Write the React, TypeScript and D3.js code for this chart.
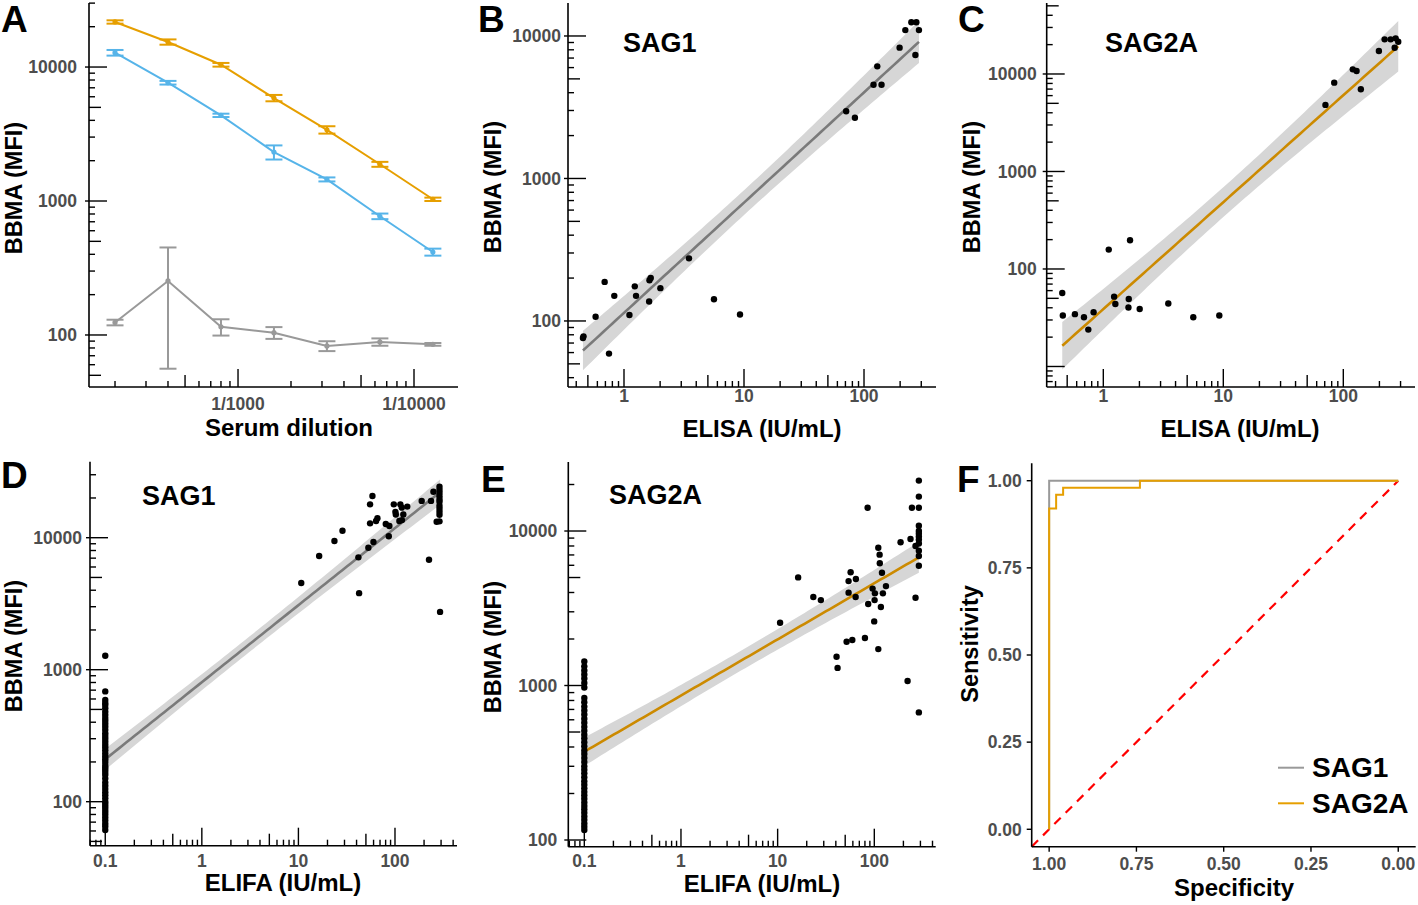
import React from 'react';
import * as d3 from 'd3';

// ---------------- DATA ----------------
// Panel A: serial dilutions (reciprocal) and BBMA MFI (mean ± SE)
const dilutions = [200, 400, 800, 1600, 3200, 6400, 12800];
const orangeMean = [21700, 15380, 10400, 5870, 3400, 1880, 1030];
const orangeSE = [620, 700, 330, 320, 215, 80, 30];
const blueMean = [12790, 7640, 4360, 2320, 1450, 769, 416];
const blueSE = [620, 240, 125, 280, 50, 37, 25];
const greyMean = [124, 253, 115, 104, 82.8, 88.7, 85.1];
const greySE = [6, 197, 16, 10.5, 7, 5.6, 2];
const dilutionTickValues = [1000, 10000];
const dilutionTickLabels = ['1/1000', '1/10000'];

// Panels B / C: ELISA (IU/mL) vs BBMA (MFI)
const elisaIU = [0.455, 0.46, 0.58, 0.69, 0.75, 0.83, 1.11, 1.23, 1.26, 1.62, 1.63, 1.67, 2.01, 3.48, 5.62, 9.26, 71, 84, 120, 129, 140, 198, 221, 248, 273, 268, 287];
const bbmaSAG1 = [76, 78, 107, 188, 59, 150, 110, 175, 150, 137, 193, 200, 170, 275, 142, 111, 2960, 2670, 4550, 6120, 4550, 8280, 11000, 12480, 12480, 7360, 11000];
const bbmaSAG2A = [56.8, 33.3, 34.4, 32, 23.9, 36, 158, 52, 43.8, 40.2, 49.3, 197, 38.9, 44.2, 32, 33.3, 4820, 8150, 11160, 10730, 6970, 17200, 22650, 22650, 23200, 18600, 21400];

// Panel D: ELIFA vs BBMA SAG1
const elifaNegValue = 0.1;
const sag1NegBBMA = [1276, 685, 590, 560, 540, 510, 480, 455, 430, 410, 390, 370, 350, 330, 315, 300, 285, 270, 258, 245, 232, 220, 210, 200, 190, 182, 175, 168, 160, 150, 140, 132, 125, 118, 112, 106, 100, 96, 92, 88, 84, 80, 76, 72, 68, 65, 61];
const sag1PosElifa = [10.7, 16.4, 23.6, 28.6, 41.8, 42.5, 53, 59.8, 55.2, 63.7, 65.8, 55.2, 58.4, 80.3, 87.5, 86.3, 97.2, 101, 102, 113.7, 117.5, 122, 111, 118, 134, 189, 236, 250, 225, 293, 270, 289, 289, 289, 289, 289, 289, 289, 289, 289, 289, 289];
const sag1PosBBMA = [4540, 7260, 9440, 11300, 7100, 3800, 8400, 9270, 12850, 13400, 14030, 17900, 20700, 12700, 12270, 10250, 17900, 15700, 15000, 17900, 16900, 15000, 13400, 13600, 17200, 19000, 19000, 22300, 6810, 2740, 13200, 24300, 23000, 21800, 20600, 19500, 18700, 17500, 16600, 15700, 14900, 13300];

// Panel E: ELIFA vs BBMA SAG2A
const sag2aNegBBMA = [1430, 1330, 1250, 1180, 1110, 1040, 970, 830, 780, 730, 690, 650, 610, 575, 540, 510, 480, 455, 430, 405, 380, 360, 340, 320, 300, 285, 270, 255, 240, 228, 216, 205, 195, 185, 175, 166, 158, 150, 142, 135, 128, 122, 116];
const sag2aPosElifa = [16.3, 23.4, 28, 10.6, 40.7, 41.7, 51.7, 59.2, 54.2, 56.9, 54.2, 64.5, 64.1, 85.3, 80, 86.5, 96, 101.4, 100.7, 99.8, 110, 113.5, 114, 120, 117, 110, 122.7, 132, 187, 237, 221, 245, 267, 267, 289, 289, 289, 289, 289, 289, 289, 289, 289, 289, 289, 289, 289];
const sag2aPosBBMA = [5010, 3740, 3570, 2550, 1535, 1300, 1920, 1970, 3990, 5410, 4740, 4890, 3740, 14150, 2030, 3370, 4240, 3950, 3570, 2600, 7800, 7030, 6180, 5370, 3220, 1720, 3950, 4400, 8450, 8870, 1070, 14150, 3700, 8000, 21200, 16700, 14150, 10820, 10000, 9600, 9200, 8800, 8300, 7450, 6890, 5960, 670];

// Panel F: ROC curves
const rocSAG1Spec = [1, 1, 0];
const rocSAG1Sens = [0, 1, 1];
const rocSAG2ASpec = [1, 1, 0.98, 0.98, 0.96, 0.96, 0.74, 0.74, 0];
const rocSAG2ASens = [0, 0.92, 0.92, 0.96, 0.96, 0.98, 0.98, 1, 1];
const rocTicks = [0, 0.25, 0.5, 0.75, 1];
const legendLabels = ['SAG1', 'SAG2A'];

// ---------------- STYLE ----------------
const FONT = '"Liberation Sans", Arial, Helvetica, sans-serif';
const TICK_COL = '#4d4d4d';
const ORANGE = '#E69F00';
const BLUE = '#56B4E9';
const GREY = '#999999';
const FIT_GREY = '#7a7a7a';
const FIT_ORANGE = '#CC8A00';
const RIBBON = '#d6d6d6';
const TICK_FS = 17.5;

function logTicks(domain: number[]) {
  const a = Math.min(domain[0], domain[1]);
  const b = Math.max(domain[0], domain[1]);
  const out: { v: number; m: number }[] = [];
  for (let e = Math.floor(Math.log10(a)); e <= Math.ceil(Math.log10(b)); e++) {
    for (let m = 1; m <= 9; m++) {
      const v = m * Math.pow(10, e);
      if (v >= a * 0.999 && v <= b * 1.001) out.push({ v, m });
    }
  }
  return out;
}
const tickLen = (m: number) => (m === 1 ? 18 : m === 5 ? 12 : 6);

function fitLogLog(xs: number[], ys: number[]) {
  const lx = xs.map(Math.log10);
  const ly = ys.map(Math.log10);
  const n = lx.length;
  const mx = d3.mean(lx) as number;
  const my = d3.mean(ly) as number;
  let sxx = 0, sxy = 0;
  for (let i = 0; i < n; i++) {
    sxx += (lx[i] - mx) ** 2;
    sxy += (lx[i] - mx) * (ly[i] - my);
  }
  const b = sxy / sxx;
  const a = my - b * mx;
  let sse = 0;
  for (let i = 0; i < n; i++) sse += (ly[i] - (a + b * lx[i])) ** 2;
  const s = Math.sqrt(sse / (n - 2));
  const t = 1.96 + 2.4 / (n - 2);
  const x0 = d3.min(lx) as number;
  const x1 = d3.max(lx) as number;
  return d3.range(80).map((i) => {
    const x = x0 + ((x1 - x0) * i) / 79;
    const yh = a + b * x;
    const se = s * Math.sqrt(1 / n + (x - mx) ** 2 / sxx);
    return { x: 10 ** x, y: 10 ** yh, lo: 10 ** (yh - t * se), hi: 10 ** (yh + t * se) };
  });
}

// ---------- generic pieces ----------
function LogAxisY({ y, x0, labels, gap }: { y: d3.ScaleLogarithmic<number, number>; x0: number; labels: number[]; gap: number }) {
  const ticks = logTicks(y.domain());
  const r = y.range();
  return (
    <g>
      <line x1={x0} x2={x0} y1={r[0]} y2={r[1]} stroke="#000" strokeWidth={1.6} />
      {ticks.map((t, i) => (
        <line key={i} x1={x0} x2={x0 + tickLen(t.m)} y1={y(t.v)} y2={y(t.v)} stroke="#000" strokeWidth={1.4} />
      ))}
      {labels.map((v) => (
        <g key={v}>
          <line x1={x0 - 4} x2={x0} y1={y(v)} y2={y(v)} stroke="#000" strokeWidth={1.4} />
          <text x={x0 - gap} y={y(v)} dy="0.36em" textAnchor="end" fontFamily={FONT} fontWeight="bold" fontSize={TICK_FS} fill={TICK_COL}>
            {v}
          </text>
        </g>
      ))}
    </g>
  );
}

function LogAxisX({ x, y0, labels, labelText, baseline }: { x: d3.ScaleLogarithmic<number, number>; y0: number; labels: number[]; labelText: string[]; baseline: number }) {
  const ticks = logTicks(x.domain());
  const r = x.range();
  return (
    <g>
      <line x1={r[0]} x2={r[1]} y1={y0} y2={y0} stroke="#000" strokeWidth={1.6} />
      {ticks.map((t, i) => (
        <line key={i} x1={x(t.v)} x2={x(t.v)} y1={y0} y2={y0 - tickLen(t.m)} stroke="#000" strokeWidth={1.4} />
      ))}
      {labels.map((v, i) => (
        <text key={i} x={x(v)} y={baseline} textAnchor="middle" fontFamily={FONT} fontWeight="bold" fontSize={TICK_FS} fill={TICK_COL}>
          {labelText[i]}
        </text>
      ))}
    </g>
  );
}

function YTitle({ x, y, text }: { x: number; y: number; text: string }) {
  return (
    <text transform={`translate(${x},${y}) rotate(-90)`} textAnchor="middle" fontFamily={FONT} fontWeight="bold" fontSize={23.5} fill="#000">
      {text}
    </text>
  );
}
function XTitle({ x, y, text }: { x: number; y: number; text: string }) {
  return (
    <text x={x} y={y} textAnchor="middle" fontFamily={FONT} fontWeight="bold" fontSize={24} fill="#000">
      {text}
    </text>
  );
}
function Letter({ x, y, text }: { x: number; y: number; text: string }) {
  return (
    <text x={x} y={y} fontFamily={FONT} fontWeight="bold" fontSize={37} fill="#000">
      {text}
    </text>
  );
}
function Title({ x, y, text }: { x: number; y: number; text: string }) {
  return (
    <text x={x} y={y} fontFamily={FONT} fontWeight="bold" fontSize={27} fill="#000">
      {text}
    </text>
  );
}

function ScatterFit({ x, y, xs, ys, lineColor }: { x: d3.ScaleLogarithmic<number, number>; y: d3.ScaleLogarithmic<number, number>; xs: number[]; ys: number[]; lineColor: string }) {
  const fit = fitLogLog(xs, ys);
  const area = d3.area<any>().x((d) => x(d.x)).y0((d) => y(d.lo)).y1((d) => y(d.hi))(fit) as string;
  const line = d3.line<any>().x((d) => x(d.x)).y((d) => y(d.y))(fit) as string;
  return (
    <g>
      <path d={area} fill={RIBBON} stroke="none" />
      <path d={line} fill="none" stroke={lineColor} strokeWidth={2.6} />
      {xs.map((v, i) => (
        <circle key={i} cx={x(v)} cy={y(ys[i])} r={3.2} fill="#000" />
      ))}
    </g>
  );
}

// ---------- Panels ----------
function PanelA() {
  const x = d3.scaleLog().domain([142.3, 17783]).range([89, 458]);
  const y = d3.scaleLog().domain([40.9, 30060]).range([387, 3]);
  const series = [
    { mean: greyMean, se: greySE, color: GREY },
    { mean: blueMean, se: blueSE, color: BLUE },
    { mean: orangeMean, se: orangeSE, color: ORANGE },
  ];
  const line = d3.line<number>().x((_, i) => x(dilutions[i])).y((d) => y(d));
  return (
    <g>
      {series.map((s, k) => (
        <g key={k}>
          <path d={line(s.mean) as string} fill="none" stroke={s.color} strokeWidth={2} />
          {s.mean.map((m, i) => {
            const cx = x(dilutions[i]);
            const yt = y(m + s.se[i]);
            const yb = y(Math.max(m - s.se[i], 1));
            return (
              <g key={i}>
                <line x1={cx} x2={cx} y1={yt} y2={yb} stroke={s.color} strokeWidth={2} />
                <line x1={cx - 8.5} x2={cx + 8.5} y1={yt} y2={yt} stroke={s.color} strokeWidth={2} />
                <line x1={cx - 8.5} x2={cx + 8.5} y1={yb} y2={yb} stroke={s.color} strokeWidth={2} />
                <circle cx={cx} cy={y(m)} r={2.6} fill={s.color} />
              </g>
            );
          })}
        </g>
      ))}
      <LogAxisY y={y} x0={89} labels={[100, 1000, 10000]} gap={12} />
      <LogAxisX x={x} y0={387} labels={dilutionTickValues} labelText={dilutionTickLabels} baseline={410} />
      <YTitle x={21.5} y={188} text="BBMA (MFI)" />
      <XTitle x={289} y={436} text="Serum dilution" />
      <Letter x={1} y={32} text="A" />
    </g>
  );
}

function PanelB() {
  const x = d3.scaleLog().domain([0.3415, 398]).range([568, 936]);
  const y = d3.scaleLog().domain([34.4, 17040]).range([387, 3]);
  return (
    <g>
      <ScatterFit x={x} y={y} xs={elisaIU} ys={bbmaSAG1} lineColor={FIT_GREY} />
      <LogAxisY y={y} x0={568} labels={[100, 1000, 10000]} gap={7} />
      <LogAxisX x={x} y0={387} labels={[1, 10, 100]} labelText={['1', '10', '100']} baseline={402} />
      <YTitle x={501} y={187} text="BBMA (MFI)" />
      <XTitle x={762} y={437} text="ELISA (IU/mL)" />
      <Title x={623} y={52} text="SAG1" />
      <Letter x={478} y={32} text="B" />
    </g>
  );
}

function PanelC() {
  const x = d3.scaleLog().domain([0.3375, 395.8]).range([1046.7, 1415]);
  const y = d3.scaleLog().domain([6.16, 53460]).range([387, 3]);
  return (
    <g>
      <ScatterFit x={x} y={y} xs={elisaIU} ys={bbmaSAG2A} lineColor={FIT_ORANGE} />
      <LogAxisY y={y} x0={1046.7} labels={[100, 1000, 10000]} gap={10} />
      <LogAxisX x={x} y0={387} labels={[1, 10, 100]} labelText={['1', '10', '100']} baseline={402} />
      <YTitle x={980} y={187} text="BBMA (MFI)" />
      <XTitle x={1240} y={437} text="ELISA (IU/mL)" />
      <Title x={1105} y={52} text="SAG2A" />
      <Letter x={958} y={32} text="C" />
    </g>
  );
}

function PanelD() {
  const x = d3.scaleLog().domain([0.0695, 438.6]).range([90, 457]);
  const y = d3.scaleLog().domain([46.4, 37660]).range([845.7, 461.7]);
  const xs = [...sag1NegBBMA.map(() => elifaNegValue), ...sag1PosElifa];
  const ys = [...sag1NegBBMA, ...sag1PosBBMA];
  return (
    <g>
      <ScatterFit x={x} y={y} xs={xs} ys={ys} lineColor={FIT_GREY} />
      <LogAxisY y={y} x0={90} labels={[100, 1000, 10000]} gap={8} />
      <LogAxisX x={x} y0={845.7} labels={[0.1, 1, 10, 100]} labelText={['0.1', '1', '10', '100']} baseline={867} />
      <YTitle x={22} y={646} text="BBMA (MFI)" />
      <XTitle x={283} y={891} text="ELIFA (IU/mL)" />
      <Title x={142} y={505} text="SAG1" />
      <Letter x={1} y={488} text="D" />
    </g>
  );
}

function PanelE() {
  const x = d3.scaleLog().domain([0.0683, 431.7]).range([568.3, 935.7]);
  const y = d3.scaleLog().domain([90.5, 27970]).range([846.7, 462]);
  const xs = [...sag2aNegBBMA.map(() => elifaNegValue), ...sag2aPosElifa];
  const ys = [...sag2aNegBBMA, ...sag2aPosBBMA];
  return (
    <g>
      <ScatterFit x={x} y={y} xs={xs} ys={ys} lineColor={FIT_ORANGE} />
      <LogAxisY y={y} x0={568.3} labels={[100, 1000, 10000]} gap={11} />
      <LogAxisX x={x} y0={846.7} labels={[0.1, 1, 10, 100]} labelText={['0.1', '1', '10', '100']} baseline={867} />
      <YTitle x={501} y={647} text="BBMA (MFI)" />
      <XTitle x={762} y={891.5} text="ELIFA (IU/mL)" />
      <Title x={609} y={504} text="SAG2A" />
      <Letter x={481} y={492} text="E" />
    </g>
  );
}

function PanelF() {
  const x = d3.scaleLinear().domain([1.05, -0.05]).range([1031.7, 1415.7]);
  const y = d3.scaleLinear().domain([-0.05, 1.05]).range([846.7, 463.3]);
  const l1 = d3.line<number>().x((d) => x(d)).y((_, i) => y(rocSAG1Sens[i]))(rocSAG1Spec) as string;
  const l2 = d3.line<number>().x((d) => x(d)).y((_, i) => y(rocSAG2ASens[i]))(rocSAG2ASpec) as string;
  return (
    <g>
      <line x1={x(1.05)} y1={y(-0.05)} x2={x(0)} y2={y(1)} stroke="#ff0000" strokeWidth={2.2} strokeDasharray="9,7" />
      <path d={l1} fill="none" stroke={GREY} strokeWidth={2} />
      <path d={l2} fill="none" stroke={ORANGE} strokeWidth={2} />
      <line x1={1031.7} x2={1031.7} y1={846.7} y2={463.3} stroke="#000" strokeWidth={1.6} />
      <line x1={1031.7} x2={1415.7} y1={846.7} y2={846.7} stroke="#000" strokeWidth={1.6} />
      {rocTicks.map((v) => (
        <g key={'y' + v}>
          <line x1={1031.7 - 5} x2={1031.7} y1={y(v)} y2={y(v)} stroke="#000" strokeWidth={1.4} />
          <text x={1031.7 - 10} y={y(v)} dy="0.36em" textAnchor="end" fontFamily={FONT} fontWeight="bold" fontSize={TICK_FS} fill={TICK_COL}>
            {v.toFixed(2)}
          </text>
        </g>
      ))}
      {rocTicks.map((v) => (
        <g key={'x' + v}>
          <line x1={x(v)} x2={x(v)} y1={846.7} y2={846.7 + 5} stroke="#000" strokeWidth={1.4} />
          <text x={x(v)} y={870} textAnchor="middle" fontFamily={FONT} fontWeight="bold" fontSize={TICK_FS} fill={TICK_COL}>
            {v.toFixed(2)}
          </text>
        </g>
      ))}
      {legendLabels.map((lab, i) => (
        <g key={lab}>
          <line x1={1278} x2={1304} y1={767.7 + i * 35.6} y2={767.7 + i * 35.6} stroke={i === 0 ? GREY : ORANGE} strokeWidth={2} />
          <text x={1312} y={777 + i * 35.6} fontFamily={FONT} fontWeight="bold" fontSize={28} fill="#000">
            {lab}
          </text>
        </g>
      ))}
      <YTitle x={978} y={644} text="Sensitivity" />
      <XTitle x={1234} y={896} text="Specificity" />
      <Letter x={957} y={492} text="F" />
    </g>
  );
}

export default function App() {
  return (
    <svg width={1418} height={905} style={{ position: 'fixed', left: 0, top: 0, background: '#fff' }}>
      <rect x={0} y={0} width={1418} height={905} fill="#fff" />
      <PanelA />
      <PanelB />
      <PanelC />
      <PanelD />
      <PanelE />
      <PanelF />
    </svg>
  );
}
